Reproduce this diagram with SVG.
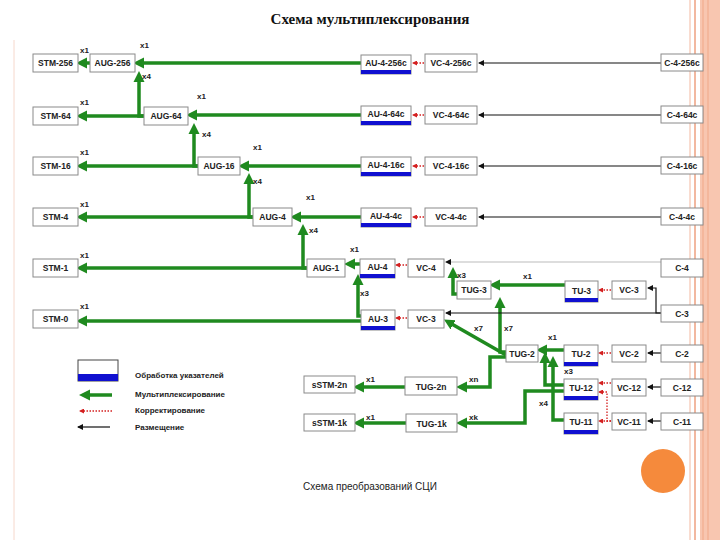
<svg xmlns="http://www.w3.org/2000/svg" width="720" height="540" viewBox="0 0 720 540">
<style>
.b{fill:#fff;stroke:#8a8a8a;stroke-width:1}
.bl{fill:#1010d0}
.t{font-family:"Liberation Sans",Arial,sans-serif;font-weight:bold;font-size:8.5px;fill:#222;text-anchor:middle}
.l{font-family:"Liberation Sans",Arial,sans-serif;font-weight:bold;font-size:8px;fill:#222}
.g{fill:none;stroke:#1f8a1f;stroke-width:3.5;marker-end:url(#ag)}
.r{fill:none;stroke:#d42020;stroke-width:1.3;stroke-dasharray:1.5 1.5;marker-end:url(#ar)}
.k{fill:none;stroke:#111;stroke-width:1.2;marker-end:url(#ak)}
</style>
<defs>
<marker id="ag" markerWidth="4" markerHeight="4" refX="1" refY="2" orient="auto"><path d="M0,0 L4,2 L0,4z" fill="#1f8a1f" transform="translate(-1,0)"/></marker>
<marker id="ar" markerWidth="5" markerHeight="5" refX="4" refY="2.5" orient="auto" markerUnits="userSpaceOnUse"><path d="M0,0 L5,2.5 L0,5z" fill="#d42020"/></marker>
<marker id="ak" markerWidth="6" markerHeight="6" refX="5" refY="3" orient="auto" markerUnits="userSpaceOnUse"><path d="M0,0 L6,3 L0,6z" fill="#111"/></marker>
</defs>
<rect width="720" height="540" fill="#fff"/>
<g id="frame">
<rect x="700" y="0" width="20" height="540" fill="#f8c6b0"/>
<line x1="690" y1="0" x2="690" y2="540" stroke="#f2b8a0" stroke-width="1"/>
<line x1="695" y1="0" x2="695" y2="540" stroke="#f2b8a0" stroke-width="2"/>
<line x1="703" y1="0" x2="703" y2="540" stroke="#f0a888" stroke-width="1"/>
<line x1="708" y1="0" x2="708" y2="540" stroke="#f0a888" stroke-width="1"/>
<line x1="14" y1="40" x2="14" y2="540" stroke="#f6d8cc" stroke-width="1"/>
<circle cx="663" cy="471" r="22" fill="#f58a3c"/>
</g>
<text x="370" y="24" font-family="Liberation Serif,serif" font-weight="bold" font-size="15" text-anchor="middle" fill="#111">Схема мультиплексирования</text>
<text x="370" y="490" font-family="Liberation Sans,Arial,sans-serif" font-size="10" text-anchor="middle" fill="#222">Схема преобразований СЦИ</text>

<g id="connectors">
<path class="g" d="M361,63 H140"/>
<path class="g" d="M90,63 H83"/>
<path class="g" d="M144,116 H139 V78"/>
<path class="g" d="M144,116 H83"/>
<path class="g" d="M361,115 H193"/>
<path class="g" d="M198,166 H194 V130"/>
<path class="g" d="M198,166 H83"/>
<path class="g" d="M361,166 H245"/>
<path class="g" d="M253,217 H249 V180"/>
<path class="g" d="M253,217 H83"/>
<path class="g" d="M361,217 H297"/>
<path class="g" d="M307,268 H303 V231"/>
<path class="g" d="M307,268 H83"/>
<path class="g" d="M360,264 H351"/>
<path class="g" d="M361,316 H358 V281"/>
<path class="g" d="M361,321 H83"/>
<path class="g" d="M457,294 H453 V274"/>
<path class="g" d="M565,285 H496"/>
<path class="g" d="M506,352 H500 V304"/>
<path class="g" d="M506,355 L450,323"/>
<path class="g" d="M564,350 H543"/>
<path class="g" d="M564,385 H545 V359"/>
<path class="g" d="M564,420 H553 V363"/>
<path class="g" d="M506,357 H490 V387 H463"/>
<path class="g" d="M405,387 H360"/>
<path class="g" d="M564,391 H525 V423 H463"/>
<path class="g" d="M406,423 H360"/>

<path class="r" d="M424,63 H413"/>
<path class="r" d="M424,115 H413"/>
<path class="r" d="M424,166 H413"/>
<path class="r" d="M424,217 H413"/>
<path class="r" d="M407,265 H396"/>
<path class="r" d="M407,318 H396"/>
<path class="r" d="M611,290 H599"/>
<path class="r" d="M611,353 H599"/>
<path class="r" d="M611,383 H599"/>
<path class="r" d="M611,421 H599"/>
<path class="r" d="M611,421 H607 V392 H599"/>

<path class="k" d="M661,63 H479"/>
<path class="k" d="M661,115 H479"/>
<path class="k" d="M661,166 H479"/>
<path class="k" d="M661,217 H479"/>
<path d="M661,262 H446" fill="none" stroke="#bbb" stroke-width="1.2" marker-end="url(#ak)"/>
<path class="k" d="M661,313 H446"/>
<path class="k" d="M661,313 H656 V288 H648"/>
<path class="k" d="M661,353 H648"/>
<path class="k" d="M661,387 H648"/>
<path class="k" d="M661,421 H648"/>
</g>

<g id="labels">
<text class="l" x="80" y="53">x1</text><text class="l" x="140" y="48">x1</text><text class="l" x="142" y="79">x4</text>
<text class="l" x="80" y="105">x1</text><text class="l" x="197" y="99">x1</text><text class="l" x="202" y="137">x4</text>
<text class="l" x="80" y="155">x1</text><text class="l" x="253" y="150">x1</text><text class="l" x="253" y="184">x4</text>
<text class="l" x="80" y="207">x1</text><text class="l" x="306" y="200">x1</text><text class="l" x="309" y="233">x4</text>
<text class="l" x="80" y="258">x1</text><text class="l" x="350" y="252">x1</text><text class="l" x="360" y="296">x3</text>
<text class="l" x="80" y="309">x1</text><text class="l" x="457" y="278">x3</text><text class="l" x="523" y="279">x1</text>
<text class="l" x="474" y="331">x7</text><text class="l" x="504" y="331">x7</text><text class="l" x="548" y="340">x1</text>
<text class="l" x="564" y="374">x3</text><text class="l" x="539" y="406">x4</text>
<text class="l" x="469" y="382">xn</text><text class="l" x="469" y="420">xk</text>
<text class="l" x="366" y="382">x1</text><text class="l" x="366" y="420">x1</text>
</g>

<g id="n-stm256"><rect class="b" x="33" y="54" width="45" height="18"/><text class="t" x="55.5" y="66">STM-256</text></g>
<g id="n-stm64"><rect class="b" x="33" y="107" width="45" height="18"/><text class="t" x="55.5" y="119">STM-64</text></g>
<g id="n-stm16"><rect class="b" x="33" y="157" width="45" height="18"/><text class="t" x="55.5" y="169">STM-16</text></g>
<g id="n-stm4"><rect class="b" x="33" y="208" width="45" height="18"/><text class="t" x="55.5" y="220">STM-4</text></g>
<g id="n-stm1"><rect class="b" x="33" y="259" width="45" height="18"/><text class="t" x="55.5" y="271">STM-1</text></g>
<g id="n-stm0"><rect class="b" x="33" y="310" width="45" height="18"/><text class="t" x="55.5" y="322">STM-0</text></g>

<g id="n-aug256"><rect class="b" x="90" y="54" width="45" height="18"/><text class="t" x="112.5" y="66">AUG-256</text></g>
<g id="n-aug64"><rect class="b" x="144" y="107" width="44" height="18"/><text class="t" x="166" y="119">AUG-64</text></g>
<g id="n-aug16"><rect class="b" x="198" y="157" width="42" height="18"/><text class="t" x="219" y="169">AUG-16</text></g>
<g id="n-aug4"><rect class="b" x="253" y="208" width="39" height="18"/><text class="t" x="272.5" y="220">AUG-4</text></g>
<g id="n-aug1"><rect class="b" x="307" y="259" width="38" height="18"/><text class="t" x="326" y="271">AUG-1</text></g>

<g id="n-au4256c"><rect class="b" x="361" y="55" width="50" height="19"/><rect class="bl" x="361" y="70" width="50" height="4"/><text class="t" x="386" y="66">AU-4-256c</text></g>
<g id="n-au464c"><rect class="b" x="361" y="106" width="50" height="19"/><rect class="bl" x="361" y="121" width="50" height="4"/><text class="t" x="386" y="117">AU-4-64c</text></g>
<g id="n-au416c"><rect class="b" x="361" y="157" width="50" height="19"/><rect class="bl" x="361" y="172" width="50" height="4"/><text class="t" x="386" y="168">AU-4-16c</text></g>
<g id="n-au44c"><rect class="b" x="361" y="208" width="50" height="19"/><rect class="bl" x="361" y="223" width="50" height="4"/><text class="t" x="386" y="219">AU-4-4c</text></g>

<g id="n-vc4256c"><rect class="b" x="425" y="54" width="52" height="18"/><text class="t" x="451" y="66">VC-4-256c</text></g>
<g id="n-vc464c"><rect class="b" x="425" y="106" width="52" height="18"/><text class="t" x="451" y="118">VC-4-64c</text></g>
<g id="n-vc416c"><rect class="b" x="425" y="157" width="52" height="18"/><text class="t" x="451" y="169">VC-4-16c</text></g>
<g id="n-vc44c"><rect class="b" x="425" y="208" width="52" height="18"/><text class="t" x="451" y="220">VC-4-4c</text></g>

<g id="n-c4256c"><rect class="b" x="661" y="54" width="42" height="17"/><text class="t" x="682" y="66">C-4-256c</text></g>
<g id="n-c464c"><rect class="b" x="661" y="106" width="42" height="17"/><text class="t" x="682" y="118">C-4-64c</text></g>
<g id="n-c416c"><rect class="b" x="661" y="157" width="42" height="17"/><text class="t" x="682" y="169">C-4-16c</text></g>
<g id="n-c44c"><rect class="b" x="661" y="208" width="42" height="17"/><text class="t" x="682" y="220">C-4-4c</text></g>
<g id="n-c4"><rect class="b" x="661" y="259" width="42" height="18"/><text class="t" x="682" y="271">C-4</text></g>
<g id="n-c3"><rect class="b" x="661" y="305" width="42" height="17"/><text class="t" x="682" y="317">C-3</text></g>
<g id="n-c2"><rect class="b" x="661" y="345" width="42" height="17"/><text class="t" x="682" y="357">C-2</text></g>
<g id="n-c12"><rect class="b" x="661" y="379" width="42" height="17"/><text class="t" x="682" y="391">C-12</text></g>
<g id="n-c11"><rect class="b" x="661" y="413" width="42" height="17"/><text class="t" x="682" y="425">C-11</text></g>

<g id="n-au4"><rect class="b" x="360" y="259" width="35" height="19"/><rect class="bl" x="360" y="274" width="35" height="4"/><text class="t" x="377.5" y="270">AU-4</text></g>
<g id="n-vc4"><rect class="b" x="408" y="259" width="36" height="18"/><text class="t" x="426" y="271">VC-4</text></g>
<g id="n-au3"><rect class="b" x="361" y="310" width="34" height="20"/><rect class="bl" x="361" y="326" width="34" height="4"/><text class="t" x="378" y="322">AU-3</text></g>
<g id="n-vc3a"><rect class="b" x="408" y="310" width="36" height="18"/><text class="t" x="426" y="322">VC-3</text></g>
<g id="n-tug3"><rect class="b" x="457" y="281" width="34" height="18"/><text class="t" x="474" y="293">TUG-3</text></g>
<g id="n-tu3"><rect class="b" x="565" y="281" width="33" height="21"/><rect class="bl" x="565" y="298" width="33" height="4"/><text class="t" x="581.5" y="294">TU-3</text></g>
<g id="n-vc3b"><rect class="b" x="612" y="281" width="34" height="18"/><text class="t" x="629" y="293">VC-3</text></g>
<g id="n-tug2"><rect class="b" x="506" y="345" width="32" height="17"/><text class="t" x="522" y="357">TUG-2</text></g>
<g id="n-tu2"><rect class="b" x="564" y="345" width="34" height="21"/><rect class="bl" x="564" y="362" width="34" height="4"/><text class="t" x="581" y="357">TU-2</text></g>
<g id="n-vc2"><rect class="b" x="612" y="345" width="34" height="17"/><text class="t" x="629" y="357">VC-2</text></g>
<g id="n-tu12"><rect class="b" x="564" y="379" width="34" height="21"/><rect class="bl" x="564" y="396" width="34" height="4"/><text class="t" x="581" y="391">TU-12</text></g>
<g id="n-vc12"><rect class="b" x="612" y="379" width="34" height="17"/><text class="t" x="629" y="391">VC-12</text></g>
<g id="n-tu11"><rect class="b" x="564" y="413" width="34" height="21"/><rect class="bl" x="564" y="430" width="34" height="4"/><text class="t" x="581" y="425">TU-11</text></g>
<g id="n-vc11"><rect class="b" x="612" y="413" width="34" height="17"/><text class="t" x="629" y="425">VC-11</text></g>
<g id="n-sstm2n"><rect class="b" x="304" y="376" width="51" height="17"/><text class="t" x="329.5" y="388">sSTM-2n</text></g>
<g id="n-tug2n"><rect class="b" x="405" y="377" width="52" height="18"/><text class="t" x="431" y="390">TUG-2n</text></g>
<g id="n-sstm1k"><rect class="b" x="304" y="414" width="51" height="17"/><text class="t" x="329.5" y="426">sSTM-1k</text></g>
<g id="n-tug1k"><rect class="b" x="406" y="414" width="51" height="18"/><text class="t" x="431.5" y="427">TUG-1k</text></g>

<g id="legend">
<rect x="78" y="360" width="40" height="21" fill="#fff" stroke="#444"/><rect x="78" y="374" width="40" height="7" fill="#1010d0"/>
<path class="g" d="M112,395 H86"/>
<path class="r" d="M112,411 H80"/>
<path class="k" d="M110,427 H78"/>
<text class="l" x="135" y="378">Обработка указателей</text>
<text class="l" x="135" y="397">Мультиплексирование</text>
<text class="l" x="135" y="413">Корректирование</text>
<text class="l" x="135" y="430">Размещение</text>
</g>
</svg>
